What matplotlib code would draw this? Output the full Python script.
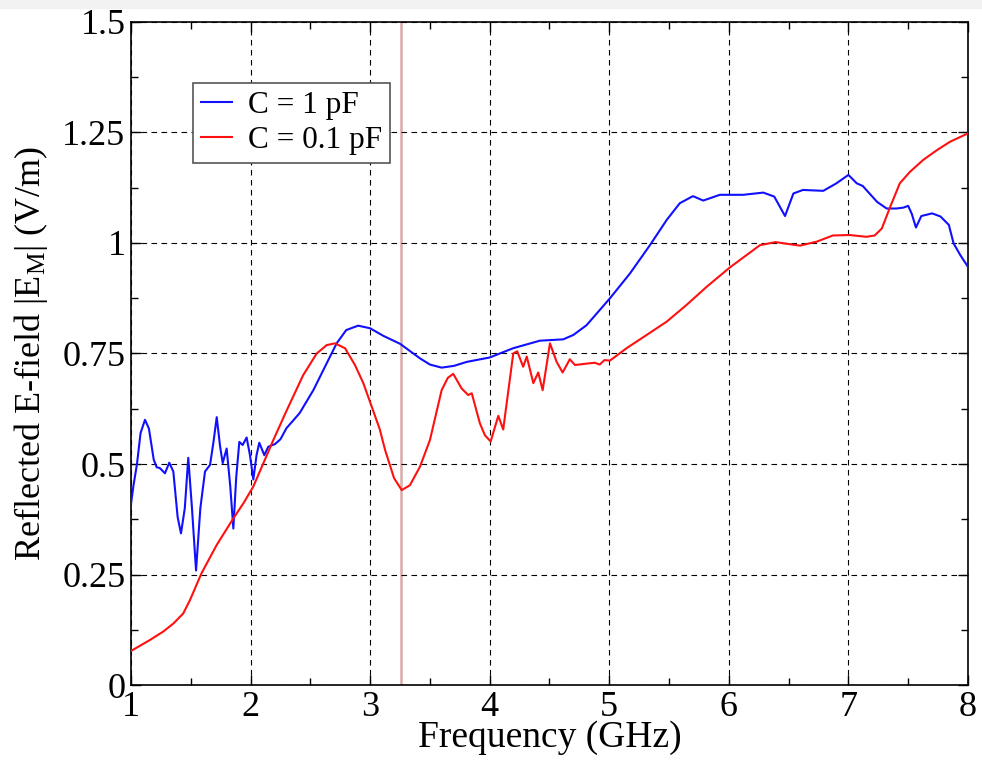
import matplotlib
matplotlib.use('Agg')
import matplotlib.pyplot as plt
from matplotlib.patches import Rectangle
from matplotlib.ticker import MultipleLocator, FixedLocator, FixedFormatter


# C = 1 pF (blue)
freq_1pF = [1.0, 1.02, 1.05, 1.08, 1.117, 1.15, 1.19, 1.215, 1.24, 1.284, 1.32, 1.354,
            1.39, 1.418, 1.45, 1.479, 1.51, 1.544, 1.58, 1.619, 1.661, 1.69, 1.717,
            1.745, 1.767, 1.80, 1.83, 1.856, 1.88, 1.906, 1.934, 1.967, 1.995, 2.023,
            2.05, 2.073, 2.10, 2.115, 2.148, 2.204, 2.25, 2.30, 2.41, 2.525, 2.637,
            2.72, 2.80, 2.90, 3.0, 3.11, 3.25, 3.417, 3.5, 3.598, 3.7, 3.808, 4.0,
            4.197, 4.42, 4.615, 4.70, 4.81, 5.006, 5.173, 5.34, 5.48, 5.59, 5.70,
            5.786, 5.925, 6.12, 6.288, 6.38, 6.47, 6.54, 6.62, 6.79, 6.90, 7.0, 7.07,
            7.12, 7.24, 7.32, 7.40, 7.46, 7.50, 7.53, 7.565, 7.61, 7.70, 7.77, 7.84,
            7.88, 7.935, 8.0]
field_1pF = [0.41, 0.45, 0.50, 0.57, 0.60, 0.58, 0.51, 0.4925, 0.491, 0.479, 0.503, 0.483,
             0.38, 0.343, 0.40, 0.514, 0.40, 0.259, 0.40, 0.483, 0.498, 0.55, 0.606,
             0.54, 0.502, 0.535, 0.45, 0.354, 0.47, 0.55, 0.543, 0.560, 0.52, 0.465,
             0.52, 0.548, 0.53, 0.520, 0.539, 0.545, 0.556, 0.581, 0.615, 0.667, 0.728,
             0.773, 0.803, 0.813, 0.807, 0.790, 0.772, 0.739, 0.725, 0.718, 0.722, 0.731, 0.741,
             0.762, 0.779, 0.782, 0.792, 0.814, 0.875, 0.931, 0.995, 1.052, 1.09, 1.106,
             1.096, 1.109, 1.109, 1.114, 1.105, 1.061, 1.112, 1.12, 1.118, 1.135, 1.154, 1.135,
             1.129, 1.093, 1.078, 1.078, 1.08, 1.084, 1.066, 1.035, 1.061, 1.067, 1.06, 1.041,
             0.999, 0.973, 0.946]

# C = 0.1 pF (red)
freq_01pF = [1.0, 1.159, 1.27, 1.354, 1.437, 1.493, 1.59, 1.717, 1.856, 1.94, 2.023, 2.106,
             2.19, 2.30, 2.44, 2.553, 2.637, 2.706, 2.79, 2.873, 2.943, 3.013, 3.08, 3.125,
             3.2, 3.264, 3.333, 3.417, 3.50, 3.598, 3.65, 3.695, 3.765, 3.82, 3.85, 3.918,
             3.96, 4.008, 4.072, 4.113, 4.197, 4.23, 4.28, 4.31, 4.365, 4.406, 4.443, 4.504,
             4.56, 4.61, 4.67, 4.713, 4.84, 4.88, 4.92, 4.96, 5.006, 5.145, 5.313, 5.48,
             5.647, 5.815, 6.01, 6.15, 6.26, 6.39, 6.595, 6.735, 6.87, 7.01, 7.15, 7.22,
             7.28, 7.35, 7.43, 7.515, 7.626, 7.74, 7.85, 8.0]
field_01pF = [0.077, 0.102, 0.121, 0.139, 0.162, 0.192, 0.253, 0.317, 0.377, 0.411, 0.449, 0.501,
              0.554, 0.62, 0.701, 0.750, 0.769, 0.773, 0.762, 0.724, 0.683, 0.630, 0.579, 0.532,
              0.468, 0.441, 0.452, 0.494, 0.554, 0.667, 0.695, 0.704, 0.671, 0.656, 0.66, 0.592,
              0.565, 0.551, 0.609, 0.578, 0.750, 0.755, 0.72, 0.743, 0.683, 0.707, 0.667, 0.773,
              0.731, 0.707, 0.737, 0.724, 0.728, 0.729, 0.725, 0.735, 0.734, 0.762, 0.792, 0.822,
              0.860, 0.901, 0.945, 0.973, 0.995, 1.002, 0.994, 1.003, 1.017, 1.018, 1.014, 1.017,
              1.033, 1.082, 1.135, 1.161, 1.188, 1.21, 1.229, 1.248]

marker_freq = 3.258

x_ticks = [1, 2, 3, 4, 5, 6, 7, 8]
y_ticks = [0, 0.25, 0.5, 0.75, 1, 1.25, 1.5]
y_tick_labels = ['0', '0.25', '0.5', '0.75', '1', '1.25', '1.5']

plt.rcParams['font.family'] = ['Liberation Serif', 'DejaVu Serif']
plt.rcParams['mathtext.fontset'] = 'custom'
plt.rcParams['mathtext.rm'] = 'Liberation Serif'
plt.rcParams['mathtext.it'] = 'Liberation Serif:italic'

fig = plt.figure(figsize=(9.82, 7.63), dpi=100)
fig.patches.append(Rectangle((0, 0.99), 1, 0.01, transform=fig.transFigure,
                             color='#f2f2f2', zorder=-10))
ax = fig.add_axes([0.1334, 0.1022, 0.8523, 0.8690])

ax.grid(True, which='major', color='black', linestyle=(0, (5, 4)), linewidth=0.8)
ax.axvline(marker_freq, color='#d8aaaa', linewidth=1.8, zorder=1.5)
ax.plot(freq_1pF, field_1pF, color='#1010ff', linewidth=1.5, label='C = 1 pF', zorder=3)
ax.plot(freq_01pF, field_01pF, color='#ff1010', linewidth=1.5, label='C = 0.1 pF', zorder=3)

ax.set_xlim(1, 8)
ax.set_ylim(0, 1.5)
ax.xaxis.set_major_locator(FixedLocator(x_ticks))
ax.yaxis.set_major_locator(FixedLocator(y_ticks))
ax.yaxis.set_major_formatter(FixedFormatter(y_tick_labels))
ax.xaxis.set_minor_locator(MultipleLocator(0.5))
ax.yaxis.set_minor_locator(MultipleLocator(0.125))
ax.tick_params(which='both', direction='in', top=True, right=True, width=1)
ax.tick_params(which='major', length=7, labelsize=26, pad=4)
ax.tick_params(which='minor', length=5)
for s in ax.spines.values():
    s.set_linewidth(1.2)

ax.set_xlabel('Frequency (GHz)', fontsize=27, labelpad=-2)
ax.set_ylabel(r'Reflected E-field |E$_{\rm M}$| (V/m)', fontsize=26, labelpad=9)

leg = ax.legend(loc='upper left', bbox_to_anchor=(0.074, 0.908), borderaxespad=0,
                fontsize=22.5, fancybox=False, framealpha=1, edgecolor='#555555',
                handlelength=1.0, handletextpad=0.5, labelspacing=0.2, borderpad=0.25)
leg.get_frame().set_linewidth(1.2)

fig.savefig('out.png', dpi=100)
